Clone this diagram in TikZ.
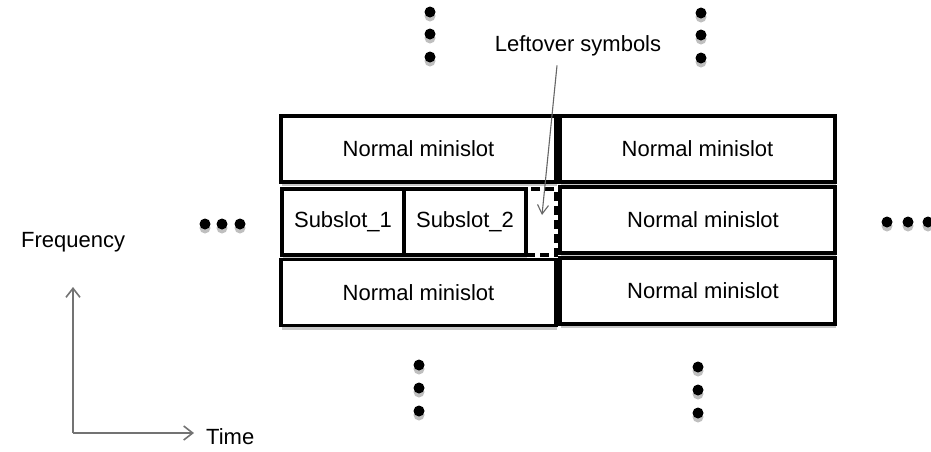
\documentclass[tikz,border=0pt]{standalone}
\usepackage{fontspec}
\setmainfont{Liberation Sans}
\usetikzlibrary{arrows.meta,shadows}
\begin{document}
\begin{tikzpicture}[x=1pt,y=-1pt,
  every node/.style={font=\fontsize{22}{26}\selectfont, inner sep=0pt},
  slotbox/.style={draw=black, line width=3.2pt, fill=white,
    minimum width=275pt, minimum height=66pt,
    drop shadow={shadow xshift=1pt, shadow yshift=-4pt, opacity=0.22, fill=black}},
  subbox/.style={slotbox, minimum width=122pt},
  leftbox/.style={draw=black, line width=3.2pt, dash pattern=on 9pt off 5pt,
    minimum width=30pt, minimum height=66pt},
  vdot/.style={circle, fill=black, minimum size=11pt,
    drop shadow={shadow xshift=0pt, shadow yshift=-4pt, opacity=0.25, fill=black}},
  axis/.style={draw=black!55, line width=1.6pt, -{Straight Barb[length=9pt,width=14pt,line width=1.6pt]}},
  pointer/.style={draw=black!60, line width=1.1pt, -{Straight Barb[length=9pt,width=11pt,line width=1.1pt]}},
  tall/.style={execute at begin node={\scalebox{1}[1.1]\bgroup}, execute at end node={\egroup}}
]
\useasboundingbox (0,0) rectangle (931,451);

% left column of minislots
\node[slotbox] (lt) at (418.5,149) {Normal minislot};
\node[subbox] (s1) at (343,222) {Subslot\_1};
\node[subbox] (s2) at (465,222) {Subslot\_2};
\node[slotbox] (lb) at (418.5,292.5) {Normal minislot};
\node[leftbox] (lo) at (541,222) {};

% right column of minislots
\node[slotbox] (rt) at (697.5,149) {Normal minislot};
\node[slotbox] (rm) at (697.5,220) {\hspace*{11pt}Normal minislot};
\node[slotbox] (rb) at (697.5,291) {\hspace*{11pt}Normal minislot};

% continuation dots
\foreach \y [count=\i] in {12,34,57} {
  \node[vdot] (tl\i) at (430,\y) {};
  \node[vdot] (tr\i) at (701,\y+1) {};
}
\foreach \y [count=\i] in {365,388,411} {
  \node[vdot] (bl\i) at (419,\y) {};
  \node[vdot] (br\i) at (698,\y+2) {};
}
\foreach \x [count=\i] in {205,222,240} {
  \node[vdot] (ld\i) at (\x,224) {};
}
\foreach \x [count=\i] in {887,908,928} {
  \node[vdot] (rd\i) at (\x,222) {};
}

% leftover symbols label and pointer
\node (lbl) at (578,46) {Leftover symbols};
\coordinate (lotip) at (542,215);
\draw[pointer] ([xshift=-21pt,yshift=-9pt]lbl.south) -- (lotip);

% axes
\node[anchor=west] (freq) at (21,242) {Frequency};
\node[anchor=west] (time) at (206,437) {Time};
\coordinate (origin) at (73,433);
\coordinate (ftip) at (73,287);
\coordinate (ttip) at (194,433);
\draw[axis] (origin) -- (ftip);
\draw[axis] (origin) -- (ttip);
\end{tikzpicture}
\end{document}
